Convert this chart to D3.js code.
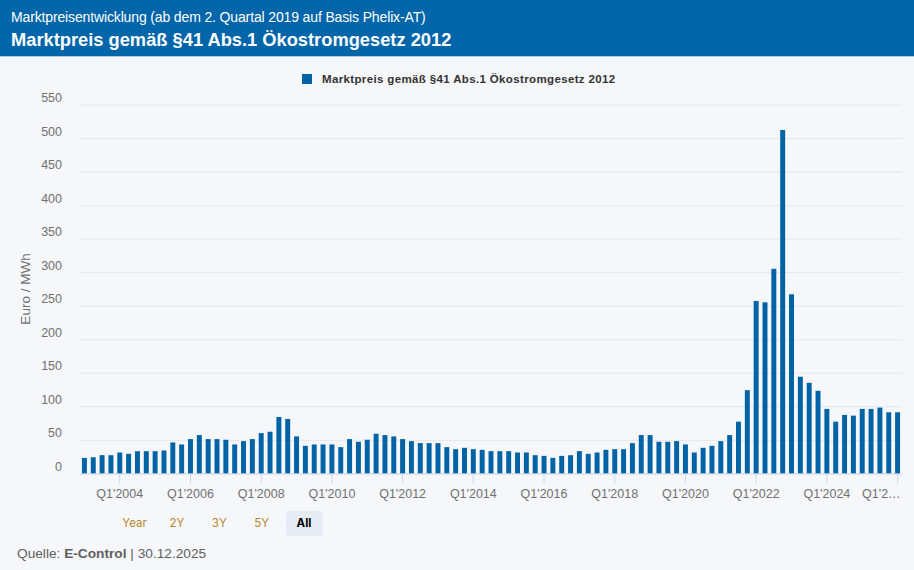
<!DOCTYPE html>
<html>
<head>
<meta charset="utf-8">
<script src="https://cdn.jsdelivr.net/npm/d3@7"></script>
<style>
html, body { margin: 0; padding: 0; background: #f5f7fb; }
#container { width: 914px; height: 570px; overflow: hidden; }
svg { display: block; font-family: "Liberation Sans", Arial, sans-serif; }
</style>
</head>
<body>
<div id="container"></div>
<script>
//chart data
const years = ["2003","2004","2005","2006","2007","2008","2009","2010","2011","2012","2013","2014",
    "2015","2016","2017","2018","2019","2020","2021","2022","2023","2024","2025","2026"]
const quarterNames = ["Q1","Q2","Q3","Q4"]
const prices = [
    23,24,27,27, 31,29,33,33, 33,34,46,43, 51,57,51,51,
    50,43,48,51, 60,62,84,81, 55,41,43,43, 43,39,51,47,
    50,59,57,55, 51,48,45,45, 45,39,36,38, 36,35,33,33,
    33,31,31,27, 26,23,26,27, 33,29,31,35, 36,36,45,57,
    57,47,47,48, 43,31,38,41, 48,57,77,124, 257,255,305,512,
    267,144,135,123, 96,77,87,86, 96,96,98,91, 91
]
const yTicks = [0,50,100,150,200,250,300,350,400,450,500,550]
const xTickLabels = ["Q1'2004","Q1'2006","Q1'2008","Q1'2010","Q1'2012","Q1'2014","Q1'2016",
    "Q1'2018","Q1'2020","Q1'2022","Q1'2024","Q1'2026"]
const rangeButtons = ["Year","2Y","3Y","5Y","All"]

//one category per bar
const categories = years.flatMap(y => quarterNames.map(q => q + "'" + y)).slice(0, prices.length)

const width = 914
const height = 570
const blue = "#0063a6"

let svg = d3.select("#container")
    .append("svg")
    .attr("width", width)
    .attr("height", height)

svg.append("rect")
    .attr("width", width)
    .attr("height", height)
    .attr("fill", "#f5f7fb")

//header
svg.append("rect")
    .attr("width", width)
    .attr("height", 56)
    .attr("fill", "#0065a9")
svg.append("rect")
    .attr("y", 56)
    .attr("width", width)
    .attr("height", 1)
    .attr("fill", "#a9cde6")
svg.append("text")
    .attr("x", 11)
    .attr("y", 22)
    .attr("font-size", 14)
    .attr("letter-spacing", -0.14)
    .attr("fill", "#fff")
    .text("Marktpreisentwicklung (ab dem 2. Quartal 2019 auf Basis Phelix-AT)")
svg.append("text")
    .attr("x", 11)
    .attr("y", 46)
    .attr("font-size", 18.3)
    .attr("font-weight", "bold")
    .attr("fill", "#fff")
    .text("Marktpreis gemäß §41 Abs.1 Ökostromgesetz 2012")

//legend
svg.append("rect")
    .attr("x", 302)
    .attr("y", 74)
    .attr("width", 10)
    .attr("height", 10)
    .attr("fill", blue)
svg.append("text")
    .attr("x", 322)
    .attr("y", 83)
    .attr("font-size", 11.5)
    .attr("font-weight", "bold")
    .attr("letter-spacing", 0.36)
    .attr("fill", "#333")
    .text("Marktpreis gemäß §41 Abs.1 Ökostromgesetz 2012")

//scales
let x = d3.scaleBand()
    .domain(categories)
    .range([80, 902])
    .paddingInner(0.44)
    .paddingOuter(0.22)

let y = d3.scaleLinear()
    .domain([0, 550])
    .range([473.3, 104.5])

//y grid and labels
let yAxis = svg.append("g")
    .attr("transform", "translate(80,0)")
    .call(d3.axisLeft(y).tickValues(yTicks).tickSize(-822))
yAxis.select(".domain").remove()
yAxis.selectAll(".tick line")
    .attr("stroke", "#e3e6ec")
    .attr("stroke-width", 1)
yAxis.selectAll(".tick text")
    .attr("x", -18)
    .attr("dy", -3)
    .attr("font-size", 12.5)
    .attr("font-family", "Liberation Sans, Arial, sans-serif")
    .attr("fill", "#707070")

svg.append("text")
    .attr("transform", "translate(30,289) rotate(-90)")
    .attr("text-anchor", "middle")
    .attr("font-size", 13.5)
    .attr("fill", "#707070")
    .text("Euro / MWh")

//x axis
let xAxis = svg.append("g")
    .attr("transform", "translate(0,473.5)")
    .call(d3.axisBottom(x)
        .tickValues(xTickLabels)
        .tickSize(10)
        .tickSizeOuter(0)
        .tickPadding(6))
xAxis.select(".domain")
    .attr("stroke", "#ccd6eb")
xAxis.selectAll(".tick line")
    .attr("stroke", "#ccd6eb")
xAxis.selectAll(".tick text")
    .attr("font-size", 12.5)
    .attr("font-family", "Liberation Sans, Arial, sans-serif")
    .attr("fill", "#707070")
//last label is cut off in the original
xAxis.selectAll(".tick:last-of-type text")
    .attr("text-anchor", "end")
    .attr("x", 3)
    .text("Q1'2…")

//bars
svg.append("g")
    .selectAll("rect")
    .data(prices)
    .enter().append("rect")
    .attr("x", (d, i) => x(categories[i]))
    .attr("y", d => y(d))
    .attr("width", x.bandwidth())
    .attr("height", d => y(0) - y(d))
    .attr("fill", blue)

//range buttons
const buttonX = d3.scalePoint()
    .domain(rangeButtons)
    .range([134.5, 304])
svg.append("rect")
    .attr("x", 286)
    .attr("y", 511)
    .attr("width", 37)
    .attr("height", 25)
    .attr("rx", 3)
    .attr("fill", "#e6ebf5")
svg.selectAll(null)
    .data(rangeButtons)
    .enter().append("text")
    .attr("x", d => buttonX(d))
    .attr("y", 527)
    .attr("text-anchor", "middle")
    .attr("font-size", 11.5)
    .attr("font-family", "Inter, sans-serif")
    .attr("font-weight", d => d == "All" ? "bold" : "normal")
    .attr("fill", d => d == "All" ? "#000" : "#b8862b")
    .text(d => d)

//source line
let source = svg.append("text")
    .attr("x", 17)
    .attr("y", 558)
    .attr("font-size", 13.7)
    .attr("fill", "#5f5f5f")
source.append("tspan").text("Quelle: ")
source.append("tspan").attr("font-weight", "bold").text("E-Control")
source.append("tspan").text(" | 30.12.2025")
</script>
</body>
</html>
